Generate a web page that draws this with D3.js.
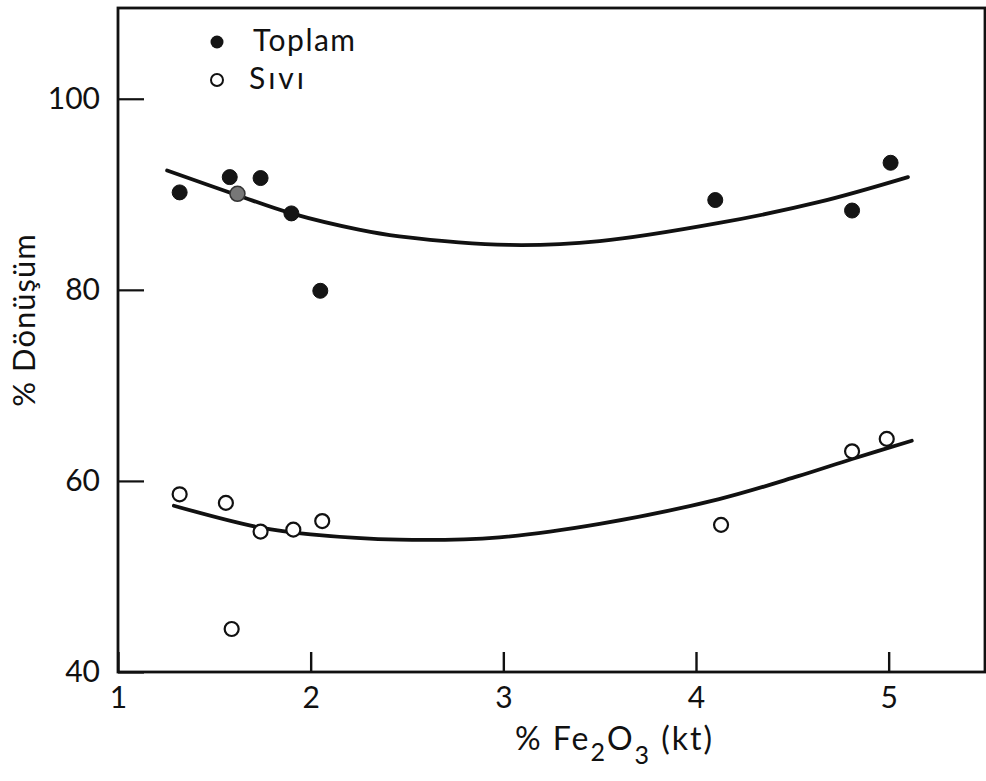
<!DOCTYPE html>
<html>
<head>
<meta charset="utf-8">
<script src="https://cdn.jsdelivr.net/npm/d3@7"></script>
<style>
  html, body { margin: 0; padding: 0; background: #fff; }
  svg text { font-family: Lato, "DejaVu Sans", sans-serif; font-weight: 400; fill: #111; }
</style>
</head>
<body>
<svg id="chart" width="986" height="781"></svg>
<script>
// ---- data ----
const xTicks = [1, 2, 3, 4, 5];
const yTicks = [40, 60, 80, 100];
const seriesNames = ["Toplam", "Sıvı"];

// Toplam (filled circles)
const toplamX = [1.32, 1.58, 1.74, 1.90, 2.05, 4.10, 4.81, 5.01];
const toplamY = [90.2, 91.8, 91.7, 88.0, 79.9, 89.4, 88.3, 93.3];
// point drawn half-toned (overlapping marks)
const greyX = [1.62];
const greyY = [90.05];

// Sıvı (open circles)
const siviX = [1.32, 1.56, 1.59, 1.74, 1.91, 2.06, 4.13, 4.81, 4.99];
const siviY = [58.6, 57.7, 44.5, 54.7, 54.9, 55.8, 55.4, 63.1, 64.4];

// fitted curves (traced)
const toplamCurveX = [1.255, 1.62, 1.90, 2.25, 2.46, 3.03, 3.50, 4.12, 4.64, 5.10];
const toplamCurveY = [92.5, 89.9, 88.0, 86.3, 85.6, 84.7, 85.1, 87.0, 89.2, 91.8];
const siviCurveX = [1.29, 1.74, 2.0, 2.46, 2.98, 3.50, 4.12, 4.53, 4.81, 5.12];
const siviCurveY = [57.4, 55.1, 54.4, 53.85, 54.1, 55.5, 58.1, 60.5, 62.3, 64.2];

// ---- layout ----
const svg = d3.select("#chart");
const mLeft = 118, mRight = 985, mTop = 8, mBottom = 672;
const x = d3.scaleLinear().domain([1, 5.5]).range([mLeft, mRight]);
const y = d3.scaleLinear().domain([40, 109.5]).range([mBottom, mTop]);

// frame
svg.append("rect")
  .attr("x", mLeft).attr("y", mTop)
  .attr("width", mRight - mLeft).attr("height", mBottom - mTop)
  .attr("fill", "none").attr("stroke", "#111").attr("stroke-width", 2.8);

// x axis (ticks inward)
const xAxis = d3.axisBottom(x).tickValues(xTicks).tickSize(-20).tickPadding(15)
  .tickFormat(d3.format("d"));
const gx = svg.append("g").attr("transform", `translate(0,${mBottom})`).call(xAxis);
gx.select(".domain").remove();
gx.selectAll(".tick line").attr("stroke", "#111").attr("stroke-width", 2.4)
  .attr("y1", 0).attr("y2", -20);
gx.selectAll(".tick text").attr("font-size", 30).attr("fill", "#111")
  .style("font-family", "Lato, 'DejaVu Sans', sans-serif");

// y axis (ticks inward)
const yAxis = d3.axisLeft(y).tickValues(yTicks).tickSize(-26).tickPadding(18)
  .tickFormat(d3.format("d"));
const gy = svg.append("g").attr("transform", `translate(${mLeft},0)`).call(yAxis);
gy.select(".domain").remove();
gy.selectAll(".tick line").attr("stroke", "#111").attr("stroke-width", 2.2);
gy.selectAll(".tick text").attr("font-size", 30).attr("fill", "#111")
  .style("font-family", "Lato, 'DejaVu Sans', sans-serif");

// curves
const line = d3.line().x(d => x(d[0])).y(d => y(d[1])).curve(d3.curveCatmullRom.alpha(0.5));
svg.append("path").datum(d3.zip(toplamCurveX, toplamCurveY))
  .attr("d", line).attr("fill", "none").attr("stroke", "#111")
  .attr("stroke-width", 3.8).attr("stroke-linecap", "round");
svg.append("path").datum(d3.zip(siviCurveX, siviCurveY))
  .attr("d", line).attr("fill", "none").attr("stroke", "#111")
  .attr("stroke-width", 3.8).attr("stroke-linecap", "round");

// points
svg.append("g").selectAll("circle").data(d3.zip(toplamX, toplamY)).join("circle")
  .attr("cx", d => x(d[0])).attr("cy", d => y(d[1])).attr("r", 7.5)
  .attr("fill", "#151515").attr("stroke", "#111").attr("stroke-width", 1);
svg.append("g").selectAll("circle").data(d3.zip(greyX, greyY)).join("circle")
  .attr("cx", d => x(d[0])).attr("cy", d => y(d[1])).attr("r", 7.5)
  .attr("fill", "#777").attr("stroke", "#333").attr("stroke-width", 1.5);
svg.append("g").selectAll("circle").data(d3.zip(siviX, siviY)).join("circle")
  .attr("cx", d => x(d[0])).attr("cy", d => y(d[1])).attr("r", 7)
  .attr("fill", "#fff").attr("stroke", "#111").attr("stroke-width", 2.2);

// legend
const lg = svg.append("g");
lg.append("circle").attr("cx", 217).attr("cy", 42).attr("r", 6.5).attr("fill", "#151515");
lg.append("circle").attr("cx", 217).attr("cy", 80).attr("r", 6).attr("fill", "#fff")
  .attr("stroke", "#111").attr("stroke-width", 2);
lg.append("text").attr("x", 253).attr("y", 51).attr("font-size", 30)
  .attr("letter-spacing", 1.5).text(seriesNames[0]);
lg.append("text").attr("x", 249).attr("y", 89).attr("font-size", 30)
  .attr("letter-spacing", 3).text(seriesNames[1]);

// y label
svg.append("text").attr("transform", "translate(35,320) rotate(-90)")
  .attr("text-anchor", "middle").attr("font-size", 31).attr("letter-spacing", 1)
  .text("% Dönüşüm");

// x label with subscripts
const xl = svg.append("text").attr("x", 515).attr("y", 750).attr("font-size", 32)
  .attr("letter-spacing", 2);
xl.append("tspan").text("% Fe");
xl.append("tspan").attr("dy", 11).attr("font-size", 25).text("2");
xl.append("tspan").attr("dy", -11).text("O");
xl.append("tspan").attr("dy", 14).attr("font-size", 25).text("3");
xl.append("tspan").attr("dy", -14).text(" (kt)");
</script>
</body>
</html>
